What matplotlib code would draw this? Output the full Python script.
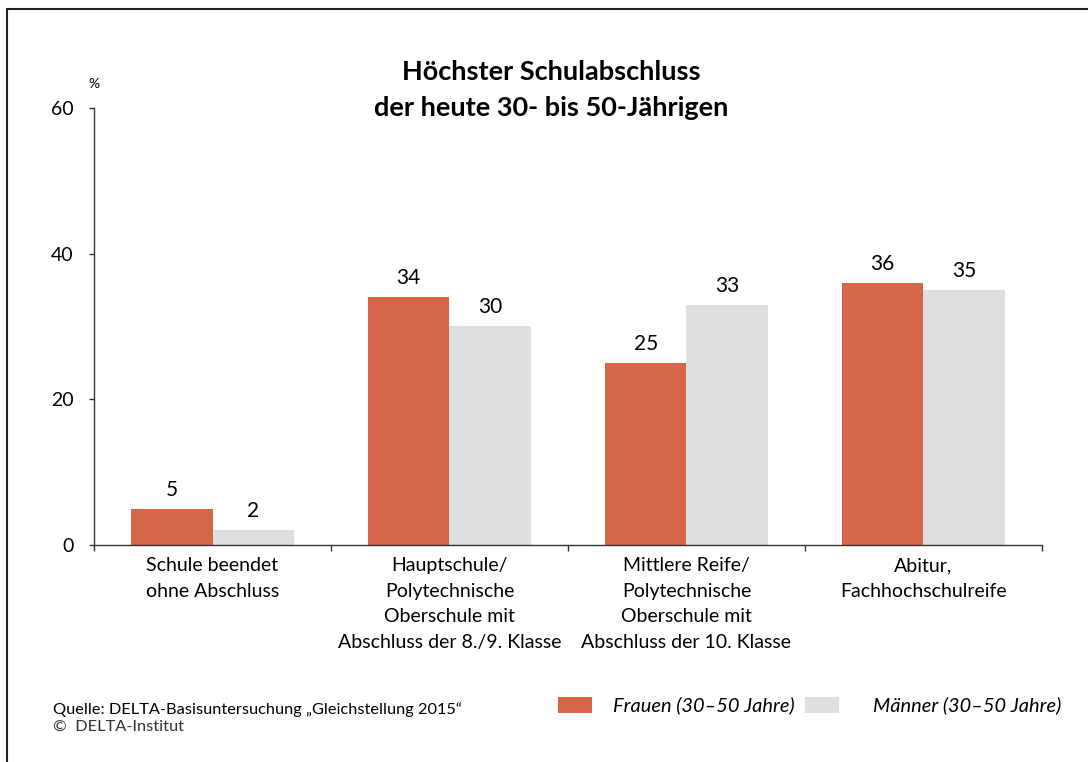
import numpy as np
import matplotlib.pyplot as plt
from matplotlib.patches import Rectangle

plt.rcParams['font.family'] = ['Lato', 'DejaVu Sans']

# data
categories = ["Schule beendet\nohne Abschluss",
              "Hauptschule/\nPolytechnische\nOberschule mit\nAbschluss der 8./9. Klasse",
              "Mittlere Reife/\nPolytechnische\nOberschule mit\nAbschluss der 10. Klasse",
              "Abitur,\nFachhochschulreife"]
frauen = [5, 34, 25, 36]
maenner = [2, 30, 33, 35]
yticks = [0, 20, 40, 60]

c_frauen = '#D6664A'
c_maenner = '#DFDFDE'

fig = plt.figure(figsize=(10.88, 7.62), dpi=100)
ax = fig.add_axes([0.0864, 0.2848, 0.8713, 0.5735])

x = np.arange(len(categories))
w = 0.344
b1 = ax.bar(x - w / 2, frauen, w, color=c_frauen, label='Frauen (30–50 Jahre)')
b2 = ax.bar(x + w / 2, maenner, w, color=c_maenner, label='Männer (30–50 Jahre)')

for bars, vals in ((b1, frauen), (b2, maenner)):
    for r, v in zip(bars, vals):
        ax.annotate(str(v), (r.get_x() + r.get_width() / 2, v), xytext=(0, 6.5),
                    textcoords='offset points', ha='center', va='bottom', fontsize=15)

ax.set_xlim(-0.5, len(categories) - 0.5)
ax.set_ylim(0, 60)
ax.set_yticks(yticks)
ax.set_xticks(np.arange(len(categories) + 1) - 0.5, minor=False)
ax.set_xticklabels([])
ax.set_xticks(x, minor=True)
ax.set_xticklabels(categories, minor=True, fontsize=14, linespacing=1.6)
ax.tick_params(axis='x', which='minor', length=0, pad=9)
ax.tick_params(axis='x', which='major', length=4, direction='out', width=1, color='#333333')
ax.tick_params(axis='y', length=3.5, width=1, color='#333333', labelsize=14, pad=11)
for s in ('top', 'right'):
    ax.spines[s].set_visible(False)
for s in ('left', 'bottom'):
    ax.spines[s].set_color('#333333')
    ax.spines[s].set_linewidth(1)

fig.text(0.0864, 0.89, '%', fontsize=10, ha='center', va='center')
fig.text(0.507, 0.882, 'Höchster Schulabschluss\nder heute 30- bis 50-Jährigen',
         ha='center', va='center', fontsize=19.5, fontweight='bold', linespacing=1.63)

fig.text(0.049, 0.069, 'Quelle: DELTA-Basisuntersuchung „Gleichstellung 2015“', fontsize=11.8, va='center')
fig.text(0.049, 0.046, '©  DELTA-Institut', fontsize=11.8, va='center', color='#333333')

# two separate legends so the gap after each patch can differ
leg_kw = dict(loc='center left', frameon=False, prop={'style': 'italic', 'size': 14.4},
              borderpad=0, borderaxespad=0, handlelength=1.7, handleheight=0.85)
fig.legend(handles=[b1], bbox_to_anchor=(558 / 1088, 0.074), handletextpad=1.05, **leg_kw)
fig.legend(handles=[b2], bbox_to_anchor=(805 / 1088, 0.074), handletextpad=1.7, **leg_kw)

fig.add_artist(Rectangle((0.0064, -0.1), 1.1, 1.088, transform=fig.transFigure,
                         fill=False, edgecolor='#222222', linewidth=1.5))

fig.savefig('out.png', dpi=100)
